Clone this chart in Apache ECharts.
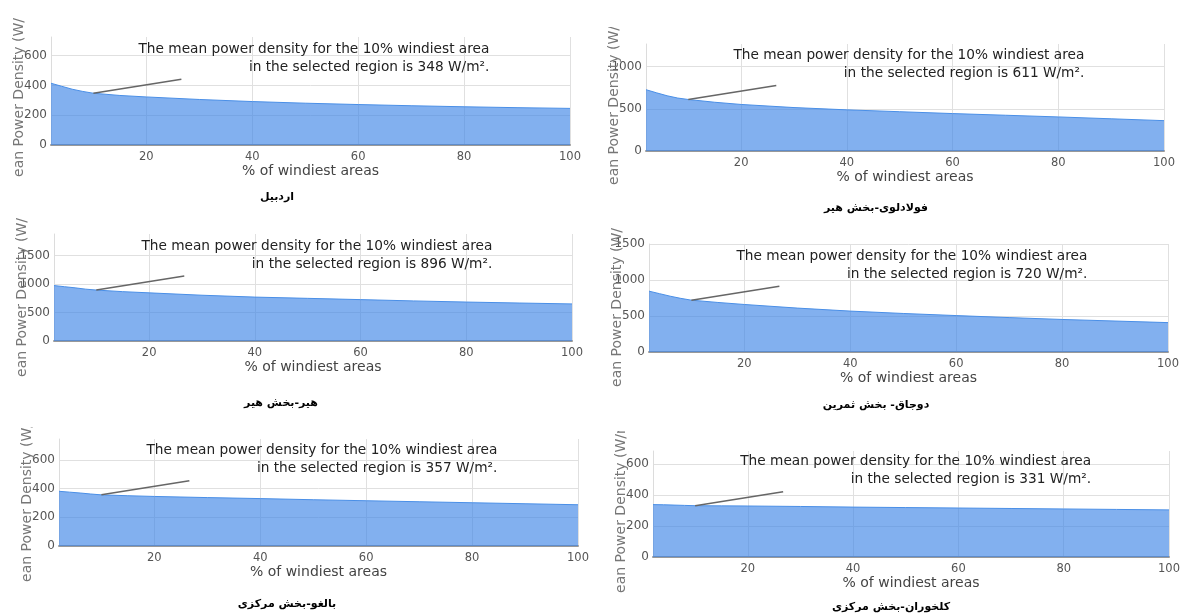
<!DOCTYPE html>
<html><head><meta charset="utf-8">
<script src="https://cdn.jsdelivr.net/npm/echarts@6/dist/echarts.min.js"></script>
<style>
html,body{margin:0;padding:0;background:#fff;width:1183px;height:615px;overflow:hidden}
#main{position:absolute;left:0;top:0;width:1183px;height:615px}
.yn{position:absolute;overflow:hidden}
</style></head><body><div id="main"></div>
<script>
// ---------- data ----------
const xPercent = [2, 4, 6, 8, 10, 15, 20, 30, 40, 50, 60, 70, 80, 90, 100];
const ardabil      = [415, 395, 375, 360, 348, 333, 323, 306, 292, 281, 272, 264, 257, 251, 246];
const fouladlouHir = [727, 690, 655, 628, 611, 578, 552, 515, 488, 466, 444, 424, 404, 382, 360];
const hirHir       = [975, 955, 935, 912, 896, 868, 847, 805, 772, 750, 728, 705, 685, 668, 652];
const dojaghSamarin= [845, 810, 775, 745, 720, 688, 660, 610, 568, 535, 506, 478, 452, 430, 408];
const balghoMarkazi= [382, 376, 370, 363, 357, 351, 346, 338, 331, 323, 316, 309, 302, 295, 288];
const kolkhoranMarkazi = [338, 337, 335, 333, 331, 330, 329, 326, 322, 319, 316, 313, 310, 307, 304];
const seriesValues = [ardabil, fouladlouHir, hirHir, dojaghSamarin, balghoMarkazi, kolkhoranMarkazi];
const meanTop10 = [348, 611, 896, 720, 357, 331];
const panelTitles = ['اردبیل', 'فولادلوی-بخش هیر', 'هیر-بخش هیر', 'دوجاق- بخش ثمرین', 'بالغو-بخش مرکزی', 'کلخوران-بخش مرکزی'];
const yMax = [726, 1269, 1882, 1500, 747, 684];
const yInterval = [200, 500, 500, 500, 200, 200];
const xTickLabels = [20, 40, 60, 80, 100];
const xName = '% of windiest areas';
const yName = 'Mean Power Density (W/m²)';

// ---------- layout ----------
const grids = [
  {left: 51,  top: 37,  width: 519, height: 108},
  {left: 646, top: 44,  width: 518, height: 107},
  {left: 54,  top: 234, width: 518, height: 107},
  {left: 649, top: 244, width: 519, height: 108},
  {left: 59,  top: 439, width: 519, height: 107},
  {left: 653, top: 451, width: 519, height: 106}
];
const titlePos = [[277,197],[876,208],[281,403],[876,405],[287,604],[891,607]];
const nameWin = [[17,177],[27,185],[217,377],[228,387],[427,582],[431,593]];
const FONT = 'DejaVu Sans';

const chart = echarts.init(document.getElementById('main'), null, {renderer: 'canvas'});
const option = {
  animation: false,
  backgroundColor: '#fff',
  grid: grids.map(g => Object.assign({containLabel: false}, g)),
  xAxis: grids.map((g, i) => ({
    type: 'value', gridIndex: i, min: 2, max: 100,
    name: xName, nameLocation: 'middle', nameGap: 18,
    nameTextStyle: {fontFamily: FONT, fontSize: 14, color: '#444'},
    axisLine: {show: true, onZero: false, lineStyle: {color: '#999', width: 2}},
    axisTick: {show: false, customValues: xTickLabels},
    axisLabel: {customValues: xTickLabels, fontFamily: FONT, fontSize: 11.5, color: '#555', margin: 6},
    splitLine: {show: true, lineStyle: {color: '#e0e0e0', width: 1}}
  })),
  yAxis: grids.map((g, i) => ({
    type: 'value', gridIndex: i, min: 0, max: yMax[i], interval: yInterval[i],
    axisLine: {show: true, lineStyle: {color: '#dcdcdc', width: 1}},
    axisTick: {show: false},
    axisLabel: {fontFamily: FONT, fontSize: 12, color: '#555', margin: 4,
      formatter: v => (v % yInterval[i] === 0 ? String(v) : '')},
    splitLine: {show: true, showMaxLine: yMax[i] % yInterval[i] === 0, lineStyle: {color: '#e0e0e0', width: 1}}
  })),
  series: seriesValues.map((vals, i) => ({
    type: 'line', xAxisIndex: i, yAxisIndex: i,
    data: xPercent.map((x, k) => [x, vals[k]]),
    showSymbol: false, smooth: false,
    lineStyle: {color: '#4a8fe7', width: 1},
    areaStyle: {color: '#3f86e6', opacity: 0.65},
    z: 1
  }))
};
chart.setOption(option);

const graphics = [];
titlePos.forEach((p, i) => {
  graphics.push({type: 'text', x: p[0], y: p[1], z: 10,
    style: {text: panelTitles[i], align: 'center', verticalAlign: 'middle', textAlign: 'center', textVerticalAlign: 'middle',
      font: 'bold 11px "DejaVu Sans"', fill: '#000'}});
});
meanTop10.forEach((v, i) => {
  const p = chart.convertToPixel({gridIndex: i}, [10, v]);
  graphics.push({type: 'line', z: 10, shape: {x1: p[0], y1: p[1], x2: p[0] + 88, y2: p[1] - 14},
    style: {stroke: '#666', lineWidth: 1.5}});
  graphics.push({type: 'text', z: 10, x: p[0] + 396, y: p[1] - 44,
    style: {text: 'The mean power density for the 10% windiest area', align: 'right', verticalAlign: 'middle',
      textAlign: 'right', textVerticalAlign: 'middle', font: '13.7px "DejaVu Sans"', fill: '#222'}});
  graphics.push({type: 'text', z: 10, x: p[0] + 396, y: p[1] - 26,
    style: {text: 'in the selected region is ' + v + ' W/m².', align: 'right', verticalAlign: 'middle',
      textAlign: 'right', textVerticalAlign: 'middle', font: '13.7px "DejaVu Sans"', fill: '#222'}});
});
chart.setOption({graphic: graphics});

// clipped y-axis names
grids.forEach((g, i) => {
  const d = document.createElement('div');
  d.className = 'yn';
  const w = 22, h = nameWin[i][1] - nameWin[i][0];
  d.style.left = (g.left - 32 - w / 2) + 'px';
  d.style.top = nameWin[i][0] + 'px';
  d.style.width = w + 'px';
  d.style.height = h + 'px';
  document.body.appendChild(d);
  const c = echarts.init(d);
  c.setOption({animation: false, graphic: [{type: 'text', x: w / 2, y: h + 12, rotation: Math.PI / 2,
    style: {text: yName, align: 'left', verticalAlign: 'middle', textAlign: 'left', textVerticalAlign: 'middle',
      font: '14px "DejaVu Sans"', fill: '#777'}}]});
});
</script></body></html>
